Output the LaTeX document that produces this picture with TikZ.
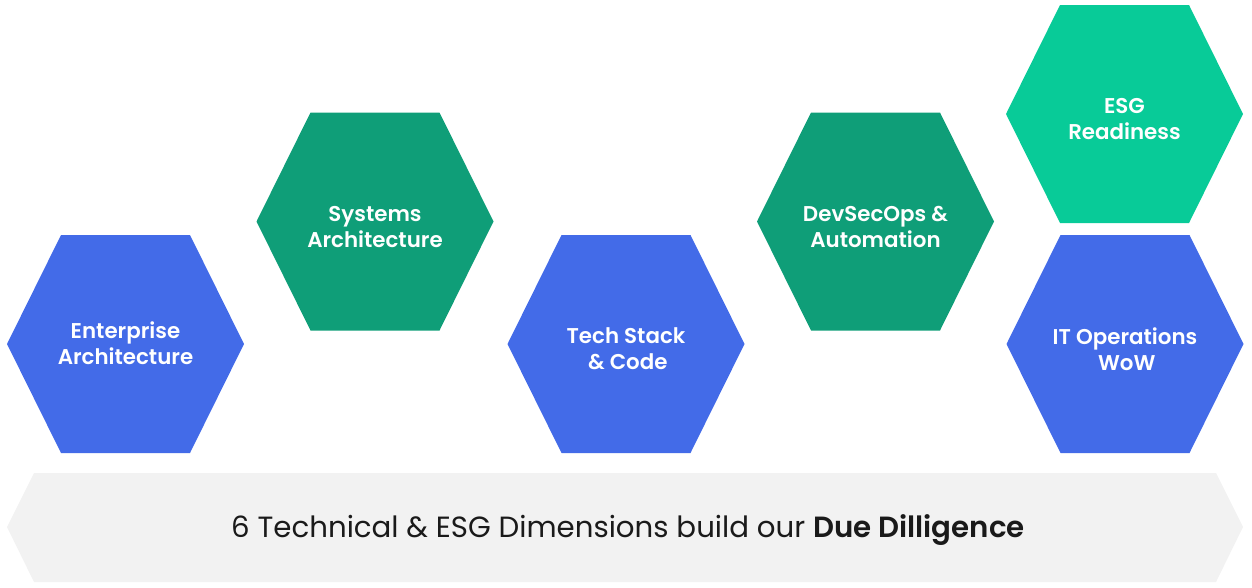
\documentclass[tikz,border=0pt]{standalone}
\usepackage{fontspec}
\setmainfont{Poppins}[BoldFont={Poppins SemiBold}]
\usetikzlibrary{positioning}
\definecolor{hexblue}{HTML}{436BE8}
\definecolor{hexgreen}{HTML}{0F9E78}
\definecolor{hexmint}{HTML}{08CB98}
\definecolor{bargray}{HTML}{F2F2F2}
\definecolor{bartext}{HTML}{1A1A1A}
\tikzset{
  pics/hexa/.style={code={
    \fill (-118.5,0) -- (-64.5,-109) -- (64.5,-109) -- (118.5,0)
      -- (64.5,109) -- (-64.5,109) -- cycle;}},
  hextext/.style={text=white, align=center, font=\fontsize{15.2}{18.5}\selectfont\bfseries},
}
\begin{document}
\begin{tikzpicture}[x=0.025cm, y=-0.025cm]
  \useasboundingbox (0,0) rectangle (1252,587);
  % Base banner
  \fill[bargray] (7,527) -- (34,473) -- (1216,473) -- (1243,527) -- (1216,582) -- (34,582) -- cycle;
  \node[text=bartext, font=\fontsize{20.8}{24}\selectfont] (base) at (628,530)
    {6 Technical \& ESG Dimensions build our \textbf{Due Dilligence}};
  % Hexagons
  \pic[hexblue] at (125.5,344) {hexa};
  \pic[hexgreen] at (375,221.5) {hexa};
  \pic[hexblue] at (626,344) {hexa};
  \pic[hexgreen] at (875.5,221.5) {hexa};
  \pic[hexmint] at (1124.5,114) {hexa};
  \pic[hexblue] at (1125,344) {hexa};
  % Labels
  \node[hextext] (ent) at (125.5,343) {Enterprise\\Architecture};
  \node[hextext] (sys) at (375,227) {Systems\\Architecture};
  \node[hextext] (tech) at (626,349) {Tech Stack\\\,\& Code};
  \node[hextext] (dev) at (875.5,227) {DevSecOps \&\\Automation};
  \node[hextext] (esg) at (1124.5,119) {ESG\\Readiness};
  \node[hextext] (itops) at (1125,349) {IT Operations\\\,WoW};
\end{tikzpicture}
\end{document}
